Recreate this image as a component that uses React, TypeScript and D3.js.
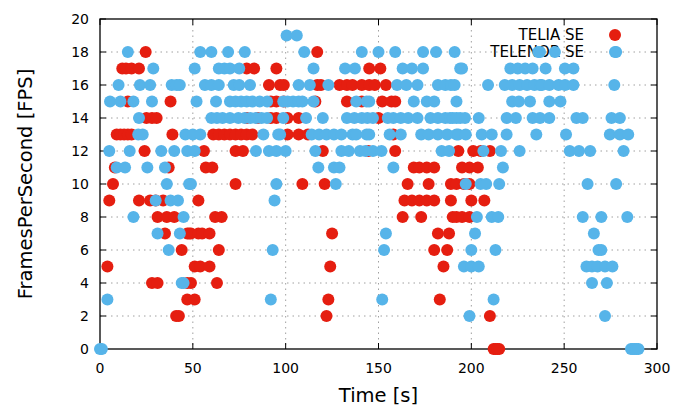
import React from "react";
import * as d3 from "d3";

// [time in s, frames per second]
const teliaSE: [number, number][] = [
  [212, 0], [213, 0], [214, 0], [215, 0],
  [41, 2], [42.5, 2], [122, 2], [210, 2],
  [47, 3], [51, 3], [123, 3], [183, 3],
  [28, 4], [31, 4], [47, 4], [49, 4], [63, 4],
  [4, 5], [51, 5], [54, 5], [59, 5], [124, 5], [185, 5],
  [44, 6], [64, 6], [180, 6], [187, 6],
  [35, 7], [47, 7], [48, 7], [49, 7], [53, 7], [55, 7], [59, 7], [125, 7], [182, 7], [188, 7],
  [31, 8], [36, 8], [40, 8], [62, 8], [65.5, 8], [163, 8], [173, 8], [190, 8], [192, 8], [195, 8], [199, 8],
  [5, 9], [21, 9], [27, 9], [30, 9], [34, 9], [53, 9], [164, 9], [168, 9], [172, 9], [176, 9], [180, 9], [189, 9], [200, 9], [207, 9],
  [7, 10], [73, 10], [109, 10], [121, 10], [165.7, 10], [177, 10], [189, 10], [192, 10], [196, 10], [199, 10],
  [8, 11], [37, 11], [57, 11], [60.5, 11], [169, 11], [172, 11], [176, 11], [180, 11], [195, 11], [199, 11], [203.5, 11],
  [24, 12], [56, 12], [73, 12], [77, 12], [120, 12], [144.5, 12], [159, 12], [193, 12], [201, 12], [205, 12], [210, 12],
  [9, 13], [11, 13], [13, 13], [15, 13], [17, 13], [39, 13], [61, 13], [64, 13], [67, 13], [70, 13], [73, 13], [76, 13], [79, 13], [82, 13], [101, 13], [107, 13], [112, 13], [158, 13],
  [25, 14], [28, 14], [30.5, 14], [79, 14], [85, 14], [92, 14], [95, 14], [101, 14], [107, 14], [150, 14],
  [15, 15], [38, 15], [92, 15], [95, 15], [99, 15], [116, 15], [133, 15], [141, 15], [152, 15], [157, 15], [159, 15],
  [91, 16], [97, 16], [99, 16], [117, 16], [119, 16], [129, 16], [133, 16], [136, 16], [141, 16], [145, 16], [148, 16], [154, 16],
  [12, 17], [14, 17], [17, 17], [21, 17], [79, 17], [83, 17], [95, 17], [145, 17], [151, 17],
  [24.6, 18], [117, 18],
];

const telenorSE: [number, number][] = [
  [0, 0], [1, 0], [286, 0], [287, 0], [288, 0], [289, 0], [290, 0],
  [199, 2], [272, 2],
  [4, 3], [92, 3], [152, 3], [212, 3],
  [44, 4], [45, 4], [265, 4], [273, 4],
  [196, 5], [200, 5], [204, 5], [262, 5], [265, 5], [268, 5], [272, 5], [276, 5],
  [37, 6], [93, 6], [153, 6], [200, 6], [213, 6], [268.5, 6], [270, 6],
  [31, 7], [43, 7], [154, 7], [202, 7], [266, 7],
  [18, 8], [45, 8], [203, 8], [211, 8], [214.5, 8], [260, 8], [270, 8], [284, 8],
  [30, 9], [38, 9], [42, 9], [94, 9],
  [36, 10], [48, 10], [49, 10], [95, 10], [127, 10], [197, 10], [205, 10], [208, 10], [215, 10], [262.6, 10], [278, 10],
  [9, 11], [13.5, 11], [25.5, 11], [35, 11], [117.6, 11], [126, 11], [129, 11], [158, 11], [217, 11],
  [5, 12], [16, 12], [33, 12], [40, 12], [47, 12], [51, 12], [84, 12], [91, 12], [95, 12], [100, 12], [116, 12], [130, 12], [134, 12], [140, 12], [143, 12], [147, 12], [151.6, 12], [184, 12], [188, 12], [206.5, 12], [216, 12], [226, 12], [253, 12], [258, 12], [264, 12], [282, 12],
  [20.6, 13], [23, 13], [46, 13], [50, 13], [54, 13], [88, 13], [96, 13], [97, 13], [114, 13], [118, 13], [122, 13], [126, 13], [130, 13], [136, 13], [138, 13], [143.6, 13], [145, 13], [156, 13], [162, 13], [173, 13], [177, 13], [182, 13], [187, 13], [192, 13], [193, 13], [197, 13], [205.6, 13], [211, 13], [219, 13], [235, 13], [251, 13], [274.6, 13], [280, 13], [284.5, 13],
  [21, 14], [60, 14], [63, 14], [66, 14], [70, 14], [74.5, 14], [78, 14], [81, 14], [84, 14], [87, 14], [90, 14], [98.7, 14], [111, 14], [120, 14], [133, 14], [137, 14], [141, 14], [144, 14], [147, 14], [155, 14], [158, 14], [162, 14], [166, 14], [171, 14], [178, 14], [182, 14], [186, 14], [188.5, 14], [190, 14], [192, 14], [194, 14], [196.6, 14], [204, 14], [219, 14], [224, 14], [233, 14], [237, 14], [242, 14], [256.6, 14], [260, 14], [275.5, 14], [280, 14],
  [5.4, 15], [11, 15], [18, 15], [28, 15], [52, 15], [62.5, 15], [70, 15], [73, 15], [76, 15], [79, 15], [82, 15], [86, 15], [90, 15], [98.7, 15], [101, 15], [104, 15], [107, 15], [109, 15], [115, 15], [138, 15], [143.6, 15], [145, 15], [169, 15], [176, 15], [180, 15], [192, 15], [222, 15], [225.6, 15], [231.6, 15], [242, 15], [248, 15],
  [10, 16], [21.5, 16], [27, 16], [38.6, 16], [41.3, 16], [43, 16], [56.5, 16], [60, 16], [64, 16], [72, 16], [75, 16], [80.8, 16], [107, 16], [113, 16], [123, 16], [160, 16], [165, 16], [171, 16], [182, 16], [186, 16], [189, 16], [191, 16], [209, 16], [218, 16], [222, 16], [226, 16], [230, 16], [234, 16], [237, 16], [238, 16], [242, 16], [247, 16], [250.5, 16], [255, 16], [277, 16],
  [28.7, 17], [51, 17], [64, 17], [67, 17], [70, 17], [75, 17], [115, 17], [132, 17], [137.3, 17], [163, 17], [168, 17], [174, 17], [194, 17], [195, 17], [221, 17], [225, 17], [229, 17], [233, 17], [240, 17], [250.4, 17], [255, 17],
  [15, 18], [54, 18], [60, 18], [69, 18], [78, 18], [110, 18], [141, 18], [150, 18], [159, 18], [174, 18], [181, 18], [191, 18], [236, 18], [237, 18], [245, 18], [278, 18],
  [100.5, 19], [106, 19],
];

const xTicks = [0, 50, 100, 150, 200, 250, 300];
const yTicks = [0, 2, 4, 6, 8, 10, 12, 14, 16, 18, 20];
const seriesNames = ["TELIA SE", "TELENOR SE"];
const seriesColors = ["#e51e10", "#56b4e9"];

const W = 680;
const H = 411;
const left = 100;
const right = 657;
const top = 19;
const bottom = 349;
const font = "'DejaVu Sans', sans-serif";

export default function App() {
  const x = d3.scaleLinear().domain([0, 300]).range([left, right]);
  const y = d3.scaleLinear().domain([0, 20]).range([bottom, top]);
  const r = 6;
  const tickLen = 6;

  return (
    <svg
      width={W}
      height={H}
      style={{ position: "absolute", left: 0, top: 0, background: "#fff" }}
      fontFamily={font}
    >
      {/* dotted grid */}
      {yTicks
        .filter((t) => t > 0 && t < 20)
        .map((t) => (
          <line
            key={"gy" + t}
            x1={left}
            x2={right}
            y1={y(t)}
            y2={y(t)}
            stroke="#a0a0a0"
            strokeWidth={1}
            strokeDasharray="1.5,4"
          />
        ))}
      {xTicks
        .filter((t) => t > 0 && t < 300)
        .map((t) => (
          <line
            key={"gx" + t}
            x1={x(t)}
            x2={x(t)}
            y1={top}
            y2={bottom}
            stroke="#a0a0a0"
            strokeWidth={1}
            strokeDasharray="1.5,4"
          />
        ))}

      {/* tick marks on all four sides */}
      {yTicks.map((t) => (
        <g key={"ty" + t} stroke="#000" strokeWidth={1}>
          <line x1={left} x2={left + tickLen} y1={y(t)} y2={y(t)} />
          <line x1={right - tickLen} x2={right} y1={y(t)} y2={y(t)} />
        </g>
      ))}
      {xTicks.map((t) => (
        <g key={"tx" + t} stroke="#000" strokeWidth={1}>
          <line x1={x(t)} x2={x(t)} y1={bottom} y2={bottom - tickLen} />
          <line x1={x(t)} x2={x(t)} y1={top} y2={top + tickLen} />
        </g>
      ))}

      {/* frame */}
      <rect
        x={left}
        y={top}
        width={right - left}
        height={bottom - top}
        fill="none"
        stroke="#000"
        strokeWidth={1.3}
      />

      {/* tick labels */}
      {yTicks.map((t) => (
        <text
          key={"ly" + t}
          x={left - 11}
          y={y(t)}
          dy="0.36em"
          textAnchor="end"
          fontSize={14}
          fill="#000"
        >
          {t}
        </text>
      ))}
      {xTicks.map((t) => (
        <text
          key={"lx" + t}
          x={x(t)}
          y={bottom + 24}
          textAnchor="middle"
          fontSize={14}
          fill="#000"
        >
          {t}
        </text>
      ))}

      {/* axis titles */}
      <text x={(left + right) / 2} y={402} textAnchor="middle" fontSize={19.5} fill="#000">
        Time [s]
      </text>
      <text
        transform={`translate(32, ${(top + bottom) / 2}) rotate(-90)`}
        textAnchor="middle"
        fontSize={19.5}
        fill="#000"
      >
        FramesPerSecond [FPS]
      </text>

      {/* key */}
      {seriesNames.map((name, i) => (
        <g key={name}>
          <text
            x={584}
            y={35 + i * 17}
            dy="0.36em"
            textAnchor="end"
            fontSize={15}
            fill="#000"
          >
            {name}
          </text>
          <circle cx={615} cy={35 + i * 17} r={r} fill={seriesColors[i]} />
        </g>
      ))}

      {/* data points */}
      {[teliaSE, telenorSE].map((series, i) => (
        <g key={"s" + i} fill={seriesColors[i]}>
          {series.map(([t, v], j) => (
            <circle key={j} cx={x(t)} cy={y(v)} r={r} />
          ))}
        </g>
      ))}
    </svg>
  );
}
